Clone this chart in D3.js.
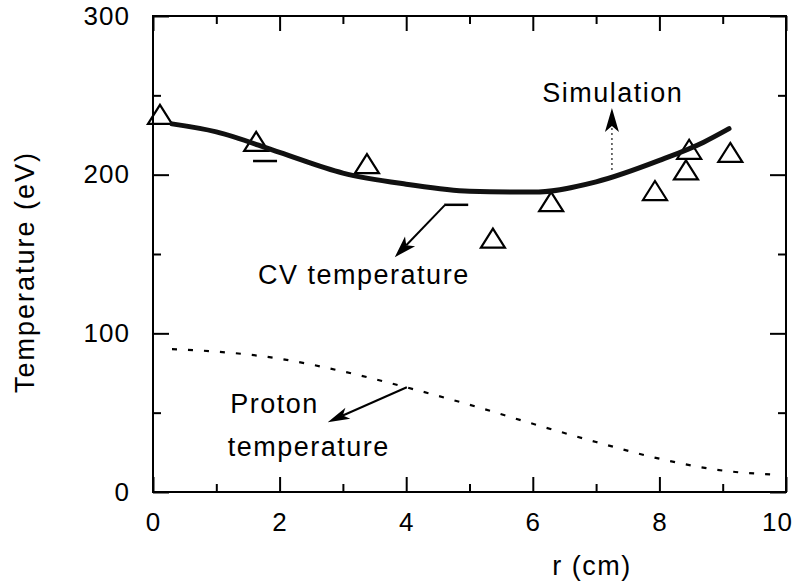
<!DOCTYPE html>
<html>
<head>
<meta charset="utf-8">
<script src="https://cdn.jsdelivr.net/npm/d3@7"></script>
<style>
  body { margin: 0; background: #fff; }
  svg { display: block; font-family: "Liberation Sans", Arial, Helvetica, sans-serif; }
</style>
</head>
<body>
<svg id="chart"></svg>
<script>
// simulation curve (solid, thick)
const simX = [0.3, 1, 2, 3, 4, 5, 6, 7, 8, 8.7, 9.1];
const simY = [232, 227, 214, 201, 194, 189.5, 189, 195.5, 209, 220.5, 229];

// proton temperature (dashed)
const protonX = [0.3, 1, 2, 3, 4, 5, 6, 7, 8, 9, 9.8];
const protonY = [90, 88.5, 84, 76, 66, 55, 43, 31.5, 21, 13.5, 11];

// measured points (open triangles)
const triX = [0.11, 1.63, 3.38, 5.37, 6.29, 7.93, 8.42, 8.47, 9.12];
const triY = [238, 221, 207, 160, 183, 190, 203, 216, 214];

// CV temperature points (short bars)
const cvX = [1.77, 4.79];
const cvY = [208.6, 181];

// tick values
const xMajor = [0, 2, 4, 6, 8, 10];
const xMinor = [1, 3, 5, 7, 9];
const yMajor = [0, 100, 200, 300];
const yMinor = [50, 150, 250];

// annotations (data coordinates)
const labels = [
    { text: "Simulation", x: 6.15, y: 245.7 },
    { text: "CV temperature", x: 1.66, y: 131 },
    { text: "Proton", x: 1.22, y: 49.8 },
    { text: "temperature", x: 1.18, y: 22.7 }
];
const arrows = [
    { x1: 7.25, y1: 203, x2: 7.25, y2: 242, dotted: true, len: 24, half: 7 },
    { x1: 4.61, y1: 180.8, x2: 3.82, y2: 148, dotted: false, len: 22, half: 7 },
    { x1: 4.01, y1: 66, x2: 2.76, y2: 44, dotted: false, len: 22, half: 6 }
];

const margin = { top: 16, right: 6, bottom: 92, left: 153 },
    width = 792 - margin.left - margin.right,
    height = 584 - margin.top - margin.bottom;

const root = d3.select("#chart")
    .attr("width", 792)
    .attr("height", 584);

root.append("rect").attr("width", 792).attr("height", 584).attr("fill", "#fff");

const svg = root.append("g")
    .attr("transform", `translate(${margin.left},${margin.top})`);

const x = d3.scaleLinear().domain([0, 10]).range([0, width]);
const y = d3.scaleLinear().domain([0, 300]).range([height, 0]);

// ticks: major with labels, minor without, all pointing inward
function styleAxis(g) {
    g.select(".domain").remove();
    g.selectAll("line").attr("stroke", "#000").attr("stroke-width", 2);
    g.selectAll("text")
        .attr("font-size", 26)
        .attr("font-family", "Liberation Sans, Arial, sans-serif")
        .attr("letter-spacing", 1)
        .attr("fill", "#000");
}

svg.append("g")
    .attr("transform", `translate(0,${height})`)
    .call(d3.axisBottom(x).tickValues(xMajor).tickSize(-15).tickPadding(21).tickFormat(d3.format("d")))
    .call(styleAxis)
    // last label sits against the page edge, as in the original
    .selectAll("text").filter(d => d === 10).attr("dx", -9);
svg.append("g")
    .attr("transform", `translate(0,${height})`)
    .call(d3.axisBottom(x).tickValues(xMinor).tickSize(-8).tickFormat(""))
    .call(styleAxis);
svg.append("g")
    .call(d3.axisTop(x).tickValues(xMajor).tickSize(-15).tickFormat(""))
    .call(styleAxis);
svg.append("g")
    .call(d3.axisTop(x).tickValues(xMinor).tickSize(-8).tickFormat(""))
    .call(styleAxis);

svg.append("g")
    .call(d3.axisLeft(y).tickValues(yMajor).tickSize(-16).tickPadding(23).tickFormat(d3.format("d")))
    .call(styleAxis);
svg.append("g")
    .call(d3.axisLeft(y).tickValues(yMinor).tickSize(-8).tickFormat(""))
    .call(styleAxis);
svg.append("g")
    .attr("transform", `translate(${width},0)`)
    .call(d3.axisRight(y).tickValues(yMajor).tickSize(-16).tickFormat(""))
    .call(styleAxis);
svg.append("g")
    .attr("transform", `translate(${width},0)`)
    .call(d3.axisRight(y).tickValues(yMinor).tickSize(-8).tickFormat(""))
    .call(styleAxis);

// frame
svg.append("rect")
    .attr("width", width)
    .attr("height", height)
    .attr("fill", "none")
    .attr("stroke", "#000")
    .attr("stroke-width", 2);

// axis titles
root.append("text")
    .attr("x", 592)
    .attr("y", 575)
    .attr("text-anchor", "middle")
    .attr("font-size", 27)
    .attr("letter-spacing", 1.5)
    .text("r (cm)");

root.append("text")
    .attr("transform", "translate(34,272) rotate(-90)")
    .attr("text-anchor", "middle")
    .attr("font-size", 27)
    .attr("letter-spacing", 2)
    .text("Temperature (eV)");

// open triangles, drawn under the curve
const triangle = {
    draw(context, size) {
        const w = 12, h = 9.5;
        context.moveTo(0, -h);
        context.lineTo(w, h);
        context.lineTo(-w, h);
        context.closePath();
    }
};
const triData = triX.map((d, i) => ({ x: d, y: triY[i] }));
svg.selectAll("path.tri")
    .data(triData)
    .join("path")
    .attr("class", "tri")
    .attr("d", d3.symbol(triangle))
    .attr("transform", d => `translate(${x(d.x)},${y(d.y)})`)
    .attr("fill", "none")
    .attr("stroke", "#000")
    .attr("stroke-width", 2.2)
    .attr("stroke-linejoin", "miter");

// CV temperature bars
const cvData = cvX.map((d, i) => ({ x: d, y: cvY[i] }));
svg.selectAll("line.cv")
    .data(cvData)
    .join("line")
    .attr("class", "cv")
    .attr("x1", d => x(d.x) - 12)
    .attr("x2", d => x(d.x) + 12)
    .attr("y1", d => y(d.y))
    .attr("y2", d => y(d.y))
    .attr("stroke", "#000")
    .attr("stroke-width", 2.5);

const line = d3.line()
    .x(d => x(d.x))
    .y(d => y(d.y))
    .curve(d3.curveMonotoneX);

// simulation curve
const simData = simX.map((d, i) => ({ x: d, y: simY[i] }));
svg.append("path")
    .datum(simData)
    .attr("d", line)
    .attr("fill", "none")
    .attr("stroke", "#111")
    .attr("stroke-width", 5)
    .attr("stroke-linecap", "round");

// proton temperature curve
const protonData = protonX.map((d, i) => ({ x: d, y: protonY[i] }));
svg.append("path")
    .datum(protonData)
    .attr("d", line)
    .attr("fill", "none")
    .attr("stroke", "#000")
    .attr("stroke-width", 2.2)
    .attr("stroke-dasharray", "5,11");

// annotation arrows
arrows.forEach(a => {
    const sx = x(a.x1), sy = y(a.y1), tx = x(a.x2), ty = y(a.y2);
    const ang = Math.atan2(ty - sy, tx - sx);
    const bx = tx - a.len * Math.cos(ang), by = ty - a.len * Math.sin(ang);
    const nx = tx - a.len * 0.75 * Math.cos(ang), ny = ty - a.len * 0.75 * Math.sin(ang);
    const px = -Math.sin(ang) * a.half, py = Math.cos(ang) * a.half;

    svg.append("line")
        .attr("x1", sx).attr("y1", sy)
        .attr("x2", nx).attr("y2", ny)
        .attr("stroke", a.dotted ? "#444" : "#000")
        .attr("stroke-width", a.dotted ? 1.5 : 2)
        .attr("stroke-dasharray", a.dotted ? "2,3" : null);

    svg.append("path")
        .attr("d", `M${tx},${ty}L${bx + px},${by + py}L${nx},${ny}L${bx - px},${by - py}Z`)
        .attr("fill", "#000");
});

// annotation text
svg.selectAll("text.note")
    .data(labels)
    .join("text")
    .attr("class", "note")
    .attr("x", d => x(d.x))
    .attr("y", d => y(d.y))
    .attr("font-size", 27)
    .attr("letter-spacing", 1.5)
    .attr("fill", "#000")
    .text(d => d.text);
</script>
</body>
</html>
